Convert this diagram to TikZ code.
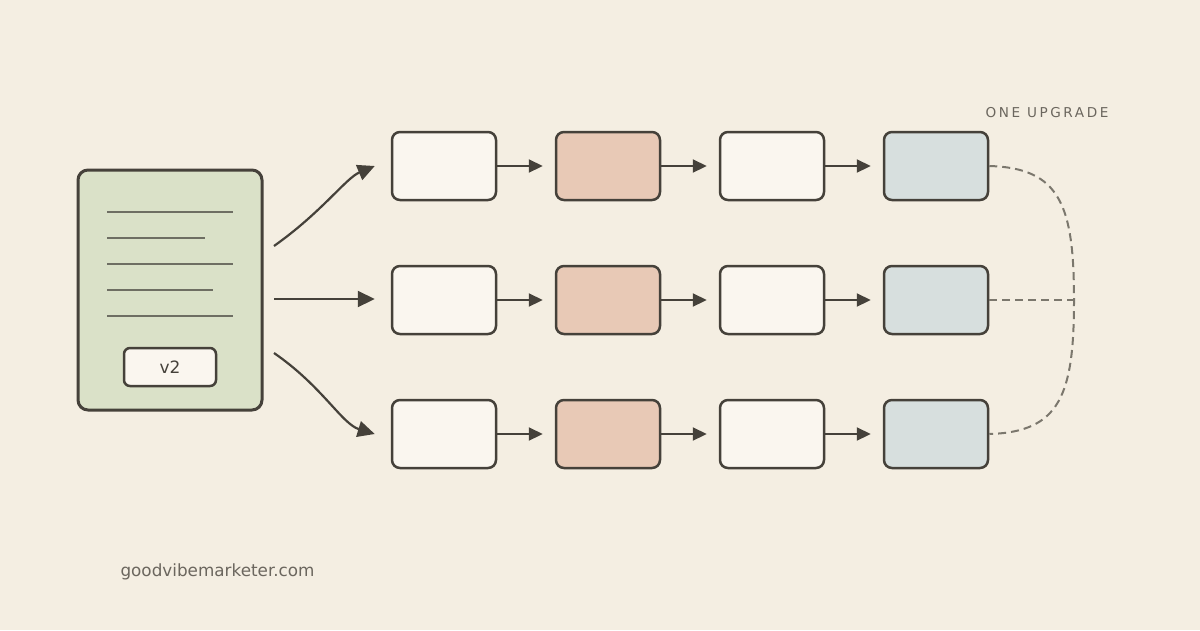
\documentclass[tikz,border=0pt]{standalone}
\usepackage{fontspec}
\setmainfont{DejaVu Sans}
\newfontfamily\spacedfont[LetterSpace=19]{DejaVu Sans}
\usetikzlibrary{arrows.meta}

\definecolor{bgcol}{HTML}{F4EEE2}
\definecolor{ink}{HTML}{45413A}
\definecolor{docgreen}{HTML}{DAE1C8}
\definecolor{rulegray}{HTML}{6E6E63}
\definecolor{cream}{HTML}{FAF6EF}
\definecolor{peach}{HTML}{E8C9B6}
\definecolor{bluegray}{HTML}{D7DFDE}
\definecolor{dashgray}{HTML}{7B776D}
\definecolor{labelgray}{HTML}{6B665E}

\tikzset{
  stage/.style={draw=ink, line width=2.5pt, rounded corners=8pt,
    minimum width=104pt, minimum height=68pt, inner sep=0pt},
  flow/.style={ink, line width=2.2pt, -{Triangle[length=17pt,width=16pt]}},
  step arrow/.style={ink, line width=2.2pt, -{Triangle[length=14pt,width=13pt]}},
  upgrade/.style={dashgray, line width=2pt, dash pattern=on 8pt off 5pt},
}

\begin{document}
\begin{tikzpicture}[x=1pt, y=-1pt]
     \useasboundingbox[fill=bgcol] (0,0) rectangle (1200,630);

     % the v2 document
     \node[draw=ink, fill=docgreen, line width=3pt, rounded corners=10pt,
           minimum width=184pt, minimum height=240pt] (doc) at (170,290) {};
     \draw[rulegray, line width=2pt] (107,212) -- (233,212);
     \draw[rulegray, line width=2pt] (107,238) -- (205,238);
     \draw[rulegray, line width=2pt] (107,264) -- (233,264);
     \draw[rulegray, line width=2pt] (107,290) -- (213,290);
     \draw[rulegray, line width=2pt] (107,316) -- (233,316);
     \node[draw=ink, fill=cream, line width=2.5pt, rounded corners=6pt,
           minimum width=92pt, minimum height=38pt, font=\fontsize{17}{17}\selectfont,
           text=ink] (tag) at (170,367) {v2};

     \coordinate (out1) at (274,246);
     \coordinate (out2) at (274,299);
     \coordinate (out3) at (274,353);

     % three pipelines
     \node[stage, fill=cream]    (r1c1) at (444,166) {};
     \node[stage, fill=peach]    (r1c2) at (608,166) {};
     \node[stage, fill=cream]    (r1c3) at (772,166) {};
     \node[stage, fill=bluegray] (r1c4) at (936,166) {};

     \node[stage, fill=cream]    (r2c1) at (444,300) {};
     \node[stage, fill=peach]    (r2c2) at (608,300) {};
     \node[stage, fill=cream]    (r2c3) at (772,300) {};
     \node[stage, fill=bluegray] (r2c4) at (936,300) {};

     \node[stage, fill=cream]    (r3c1) at (444,434) {};
     \node[stage, fill=peach]    (r3c2) at (608,434) {};
     \node[stage, fill=cream]    (r3c3) at (772,434) {};
     \node[stage, fill=bluegray] (r3c4) at (936,434) {};

     \draw[flow] (out1) .. controls (322,212) and (346,178) .. ([xshift=-16pt]r1c1.west);
     \draw[flow] (out2) -- ([xshift=-16pt]r2c1.west |- out2);
     \draw[flow] (out3) .. controls (322,386) and (342,424) .. ([xshift=-16pt]r3c1.west);

     \draw[step arrow] (r1c1) -- ([xshift=-12pt]r1c2.west);
     \draw[step arrow] (r1c2) -- ([xshift=-12pt]r1c3.west);
     \draw[step arrow] (r1c3) -- ([xshift=-12pt]r1c4.west);
     \draw[step arrow] (r2c1) -- ([xshift=-12pt]r2c2.west);
     \draw[step arrow] (r2c2) -- ([xshift=-12pt]r2c3.west);
     \draw[step arrow] (r2c3) -- ([xshift=-12pt]r2c4.west);
     \draw[step arrow] (r3c1) -- ([xshift=-12pt]r3c2.west);
     \draw[step arrow] (r3c2) -- ([xshift=-12pt]r3c3.west);
     \draw[step arrow] (r3c3) -- ([xshift=-12pt]r3c4.west);

     % one upgrade brace
     \coordinate (join) at (1074,300);
     \draw[upgrade] (r1c4.east) .. controls (1060,168) and (1074,205) .. (join)
                     .. controls (1074,395) and (1060,432) .. (r3c4.east);
     \draw[upgrade] (r2c4.east) -- (join);
     \node[text=labelgray, font=\spacedfont\fontsize{13.6}{14}\selectfont] (oneup) at (1047,113) {ONE UPGRADE};

     \node[text=labelgray, font=\fontsize{16.8}{17}\selectfont, anchor=west] (site) at (117,572) {goodvibemarketer.com};
\end{tikzpicture}
\end{document}
